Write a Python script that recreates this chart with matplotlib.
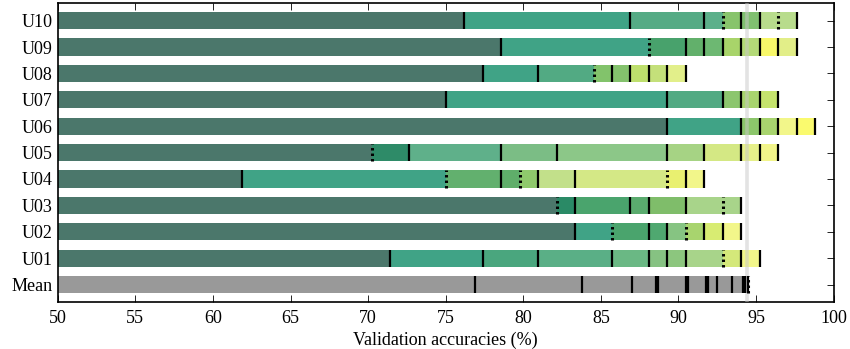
import numpy as np
import matplotlib
matplotlib.use('Agg')
import matplotlib.pyplot as plt

### Data
N_VAL = 84  # size of the validation set, accuracies are counts out of this

users = ['U01', 'U02', 'U03', 'U04', 'U05', 'U06', 'U07', 'U08', 'U09', 'U10']

# correct validation samples after each step (segment ends, left to right)
steps = {
    'U01': [60, 65, 68, 72, 74, 75, 76, 78, 79, 80],
    'U02': [70, 72, 74, 75, 76, 77, 78, 79],
    'U03': [69, 70, 73, 74, 76, 78, 79],
    'U04': [52, 63, 66, 67, 68, 70, 75, 76, 77],
    'U05': [59, 61, 66, 69, 75, 77, 79, 80, 81],
    'U06': [75, 79, 80, 81, 82, 83],
    'U07': [63, 75, 78, 79, 80, 81],
    'U08': [65, 68, 71, 72, 73, 74, 75, 76],
    'U09': [66, 74, 76, 77, 78, 79, 80, 81, 82],
    'U10': [64, 73, 77, 78, 79, 80, 81, 82],
}

# True where the step ends with a dotted marker
dotted = {
    'U01': [0, 0, 0, 0, 0, 0, 0, 1, 0, 0],
    'U02': [0, 1, 0, 0, 1, 0, 0, 0],
    'U03': [1, 0, 0, 0, 0, 1, 0],
    'U04': [0, 1, 0, 1, 0, 0, 1, 0, 0],
    'U05': [1, 0, 0, 0, 0, 0, 0, 0, 0],
    'U06': [0, 0, 0, 0, 0, 0],
    'U07': [0, 0, 0, 0, 0, 0],
    'U08': [0, 0, 1, 0, 0, 0, 0, 0],
    'U09': [0, 1, 0, 0, 0, 0, 0, 0, 0],
    'U10': [0, 0, 0, 1, 0, 0, 1, 0],
}

# mean accuracies (%) over users
mean_steps = [76.9, 83.8, 87.0, 88.55, 88.68, 90.47, 90.6, 91.76, 91.88,
              92.46, 93.45, 94.16, 94.28, 94.45, 94.5]
mean_dotted = [0] * 13 + [1, 0]
mean_final = 94.4

xticks = [50, 55, 60, 65, 70, 75, 80, 85, 90, 95, 100]

### Styles
base = '#4b776b'
teal = '#40a386'
colors = {
    'U01': [base, teal, '#4aa67e', '#5aaf86', '#6ab884', '#86c282', '#8cc67e', '#a8d48a', '#d4e87a', '#f2f68a'],
    'U02': [base, teal, '#4aa46d', '#4fa870', '#86c482', '#a8d46e', '#d8ec72', '#f2f68a'],
    'U03': [base, '#2a8a66', '#4aa46d', '#5aab6e', '#7fbd6a', '#a8d48a', '#a8d48a'],
    'U04': [base, teal, '#62b06e', '#5fae6a', '#8fc96c', '#c2e08a', '#d4e886', '#e9f070', '#f2f68a'],
    'U05': [base, '#2e8b68', '#5fb08a', '#7bbd85', '#8cc788', '#a6d384', '#d4e884', '#e6f08a', '#f2f58a'],
    'U06': [base, teal, '#8cc66b', '#a8d46e', '#f2f68a', '#fafa6e'],
    'U07': [base, teal, '#52aa83', '#8cc66e', '#a8d46e', '#c5e36d'],
    'U08': [base, teal, '#52aa83', '#82c36b', '#84c26d', '#bedf6d', '#c4e07a', '#e2ef8a'],
    'U09': [base, teal, '#48a26c', '#62b06b', '#6db872', '#a8d46a', '#b4da78', '#f8f86a', '#e2ee88'],
    'U10': [base, teal, '#55ab85', '#5cb08a', '#88c46c', '#80c070', '#b8dc8c', '#b8dc8c'],
}

plt.rcParams['font.family'] = ['Liberation Serif', 'DejaVu Serif']
plt.rcParams['font.size'] = 13

H = 0.65       # bar height
XMIN = 50

fig = plt.figure(figsize=(8.5, 3.49), dpi=100)
ax = fig.add_axes([0.0679, 0.1355, 0.9129, 0.8545])

def marker(x, y, dot):
    if dot:
        ax.plot([x, x], [y - H / 2, y + H / 2], color='k', lw=2.2,
                linestyle=(0, (0.8, 1.0)), solid_capstyle='butt', zorder=4)
    else:
        ax.plot([x, x], [y - H / 2, y + H / 2], color='k', lw=1.6,
                solid_capstyle='butt', zorder=4)

# user rows
for i, u in enumerate(users):
    y = i + 1
    acc = np.array(steps[u]) / N_VAL * 100
    left = np.concatenate([[XMIN], acc[:-1]])
    ax.barh(y, acc - left, left=left, height=H, color=colors[u], lw=0, zorder=2)
    for x, d in zip(acc, dotted[u]):
        marker(x, y, d)

# mean row
ax.barh(0, mean_steps[-1] - XMIN, left=XMIN, height=H, color='#999999', lw=0, zorder=2)
for x, d in zip(mean_steps, mean_dotted):
    marker(x, 0, d)

# reference line at the mean final accuracy
ax.axvline(mean_final, color='#c8c8c8', lw=2.6, alpha=0.5, zorder=3)

ax.set_xlim(50, 100)
ax.set_ylim(-0.65, 10.65)
ax.set_xticks(xticks)
ax.set_yticks(range(11))
ax.set_yticklabels(['Mean'] + users)
ax.set_xlabel('Validation accuracies (%)', labelpad=3)
ax.tick_params(direction='in', top=True, right=True, length=5, width=0.6, pad=6)
ax.tick_params(axis='y', pad=4)
for s in ax.spines.values():
    s.set_linewidth(1.2)

fig.savefig('out.png', dpi=100)
